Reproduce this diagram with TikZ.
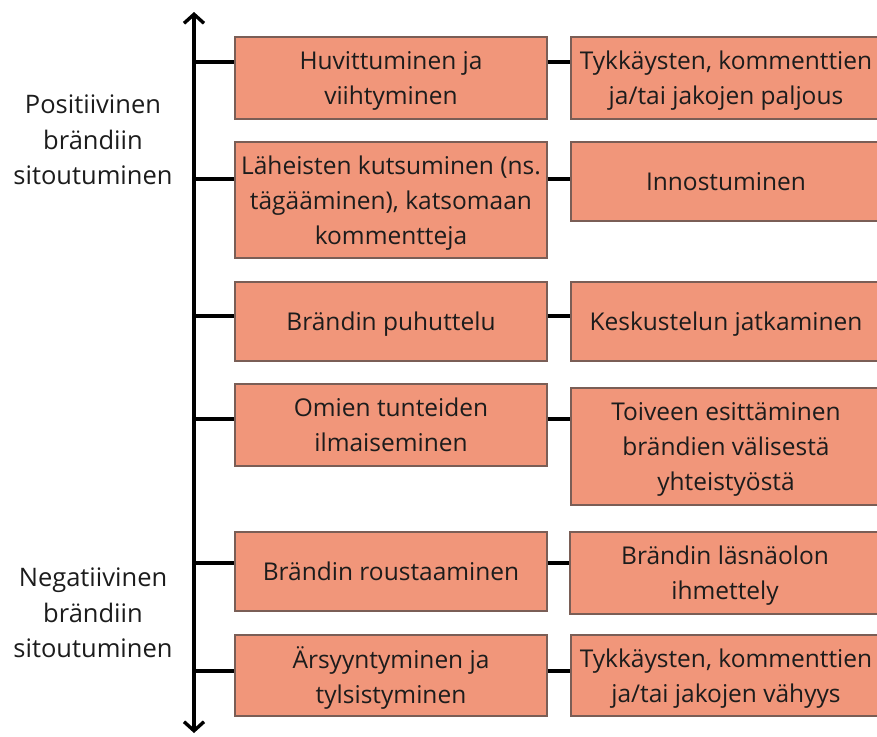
\documentclass[tikz,border=0pt]{standalone}
\usepackage{fontspec}
\setmainfont{Open Sans}
\usepackage{xcolor}
\usetikzlibrary{arrows.meta, positioning, calc}
\definecolor{boxfill}{HTML}{F1967A}
\definecolor{boxline}{HTML}{7A5E56}
\definecolor{inktext}{HTML}{1C1C1C}

\begin{document}
\begin{tikzpicture}[x=1pt, y=-1pt,
        every node/.style={font=\fontsize{24.5}{35}\selectfont, text=inktext, align=center, inner sep=0pt},
        cbox/.style={draw=boxline, line width=1.1pt, fill=boxfill, minimum width=312pt, text depth=-2pt},
        rbox/.style={cbox, minimum width=310pt},
        sidelabel/.style={font=\fontsize{25.5}{35.5}\selectfont},
        tick/.style={line width=3.4pt}]
    \useasboundingbox (0,0) rectangle (877,736);

    % axis
    \coordinate (axtop) at (194,12);
    \coordinate (axbot) at (194,733);
    \draw[line width=4pt, {Straight Barb[length=9pt, width=20pt, line width=3.4pt]}-{Straight Barb[length=9pt, width=20pt, line width=3.4pt]}]
        (axtop) -- (axbot);

    \node[sidelabel] (pos) at (93,140) {Positiivinen\\brändiin\\sitoutuminen};
    \node[sidelabel] (neg) at (93,613) {Negatiivinen\\brändiin\\sitoutuminen};

    % left column
    \node[cbox, minimum height=82pt] (l1) at (391,78) {Huvittuminen ja\\viihtyminen};
    \node[cbox, minimum height=116pt] (l2) at (391,200) {Läheisten kutsuminen (ns.\\tägääminen), katsomaan\\kommentteja};
    \node[cbox, minimum height=79pt] (l3) at (391,321.5) {Brändin puhuttelu};
    \node[cbox, minimum height=82pt] (l4) at (391,425) {Omien tunteiden\\ilmaiseminen};
    \node[cbox, minimum height=79pt] (l5) at (391,571.5) {Brändin roustaaminen};
    \node[cbox, minimum height=81pt] (l6) at (391,675.5) {Ärsyyntyminen ja\\tylsistyminen};

    % right column
    \node[rbox, minimum height=82pt] (r1) at (726,78) {Tykkäysten, kommenttien\\ja/tai jakojen paljous};
    \node[rbox, minimum height=79pt] (r2) at (726,181.5) {Innostuminen};
    \node[rbox, minimum height=79pt] (r3) at (726,321.5) {Keskustelun jatkaminen};
    \node[rbox, minimum height=117pt] (r4) at (726,446.5) {Toiveen esittäminen\\brändien välisestä\\yhteistyöstä};
    \node[rbox, minimum height=82pt] (r5) at (725,573) {Brändin läsnäolon\\ihmettely};
    \node[rbox, minimum height=81pt] (r6) at (726,675.5) {Tykkäysten, kommenttien\\ja/tai jakojen vähyys};

    % ticks and links
    \foreach \row/\ty in {1/62, 2/179, 3/316, 4/419, 5/563, 6/671} {
        \coordinate (t\row) at (0,\ty);
        \draw[tick] (t\row -| axtop) -- (t\row -| l\row.west);
        \draw[tick] (t\row -| l\row.east) -- (t\row -| r\row.west);
    }
\end{tikzpicture}
\end{document}
